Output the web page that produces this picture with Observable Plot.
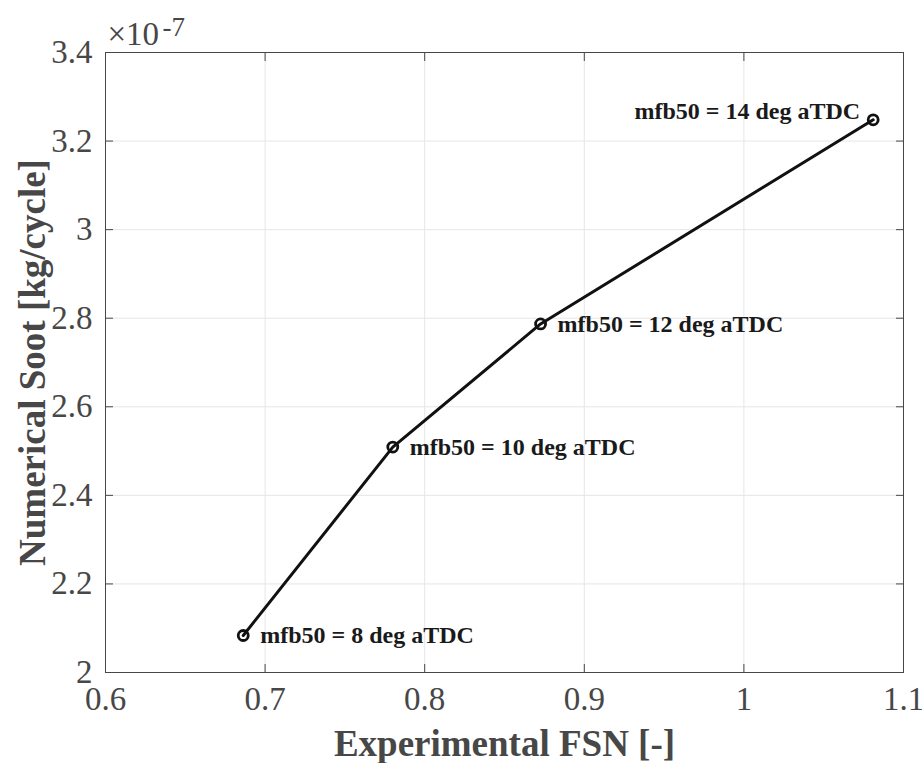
<!DOCTYPE html>
<html><head><meta charset="utf-8">
<script src="https://cdn.jsdelivr.net/npm/d3@7"></script>
<script src="https://cdn.jsdelivr.net/npm/@observablehq/plot@0.6"></script>
<style>html,body{margin:0;padding:0;background:#fff}</style>
</head><body><div id="chart"></div>
<script>
// Data (soot in units of 1e-7 kg/cycle)
const fsn = [0.6863, 0.7800, 0.8726, 1.0810];
const soot = [2.0835, 2.509, 2.787, 3.248];
const pointLabels = ["mfb50 = 8 deg aTDC", "mfb50 = 10 deg aTDC", "mfb50 = 12 deg aTDC", "mfb50 = 14 deg aTDC"];
const labelSide = ["right", "right", "right", "left"];
const xTicks = [0.6, 0.7, 0.8, 0.9, 1.0, 1.1];
const xTickLabels = ["0.6", "0.7", "0.8", "0.9", "1", "1.1"];
const yTicks = [2, 2.2, 2.4, 2.6, 2.8, 3, 3.2, 3.4];
const yTickLabels = ["2", "2.2", "2.4", "2.6", "2.8", "3", "3.2", "3.4"];
const xLabel = "Experimental FSN [-]";
const yLabel = "Numerical Soot [kg/cycle]";
const exponentBase = "×10";
const exponentPower = "-7";

const data = fsn.map((x, i) => ({x, y: soot[i], label: pointLabels[i], side: labelSide[i]}));
const axisColor = "#474747";
const font = "'Liberation Serif', 'Times New Roman', Times, serif";

const chart = Plot.plot({
  width: 922, height: 763,
  marginTop: 52, marginRight: 19, marginBottom: 91, marginLeft: 105,
  style: {fontFamily: font, background: "white", overflow: "visible"},
  x: {domain: [0.6, 1.1]},
  y: {domain: [2, 3.4]},
  marks: [
    Plot.gridX(xTicks, {stroke: "#e6e6e6", strokeOpacity: 1}),
    Plot.gridY(yTicks, {stroke: "#e6e6e6", strokeOpacity: 1}),
    Plot.axisX(xTicks, {anchor: "bottom", tickSize: -8, stroke: axisColor, tickPadding: 22, fontSize: 33, fill: axisColor,
      tickFormat: d => xTickLabels[xTicks.indexOf(d)], label: null}),
    Plot.axisX(xTicks, {anchor: "top", tickSize: -8, stroke: axisColor, text: null, label: null}),
    Plot.axisY(yTicks, {anchor: "left", tickSize: -8, stroke: axisColor, tickPadding: 21, fontSize: 33, fill: axisColor,
      tickFormat: d => yTickLabels[yTicks.indexOf(d)], label: null}),
    Plot.axisY(yTicks, {anchor: "right", tickSize: -8, stroke: axisColor, text: null, label: null}),
    Plot.frame({stroke: axisColor, strokeWidth: 1}),
    Plot.line(data, {x: "x", y: "y", stroke: "#111", strokeWidth: 3}),
    Plot.dot(data, {x: "x", y: "y", r: 5, stroke: "#111", strokeWidth: 2.8, fill: "none"}),
    Plot.text(data.filter(d => d.side === "right"), {x: "x", y: "y", text: "label", textAnchor: "start", dx: 17,
      fontSize: 24, fontWeight: "bold", fill: "#1a1a1a"}),
    Plot.text(data.filter(d => d.side === "left"), {x: "x", y: "y", text: "label", textAnchor: "end", dx: -13, dy: -9,
      fontSize: 24, fontWeight: "bold", fill: "#1a1a1a"}),
    Plot.text([xLabel], {frameAnchor: "bottom", lineAnchor: "bottom", dy: 83, fontSize: 37, fontWeight: "bold", fill: axisColor}),
    Plot.text([yLabel], {frameAnchor: "left", textAnchor: "middle", lineAnchor: "bottom", rotate: -90, dx: -61, fontSize: 37, fontWeight: "bold", fill: axisColor}),
    Plot.text([exponentBase], {frameAnchor: "top-left", textAnchor: "start", lineAnchor: "bottom", dx: 2, dy: -8, fontSize: 33, fill: axisColor}),
    Plot.text([exponentPower], {frameAnchor: "top-left", textAnchor: "start", lineAnchor: "bottom", dx: 57, dy: -17, fontSize: 27, fill: axisColor})
  ]
});
document.getElementById("chart").appendChild(chart);
</script>
</body></html>
